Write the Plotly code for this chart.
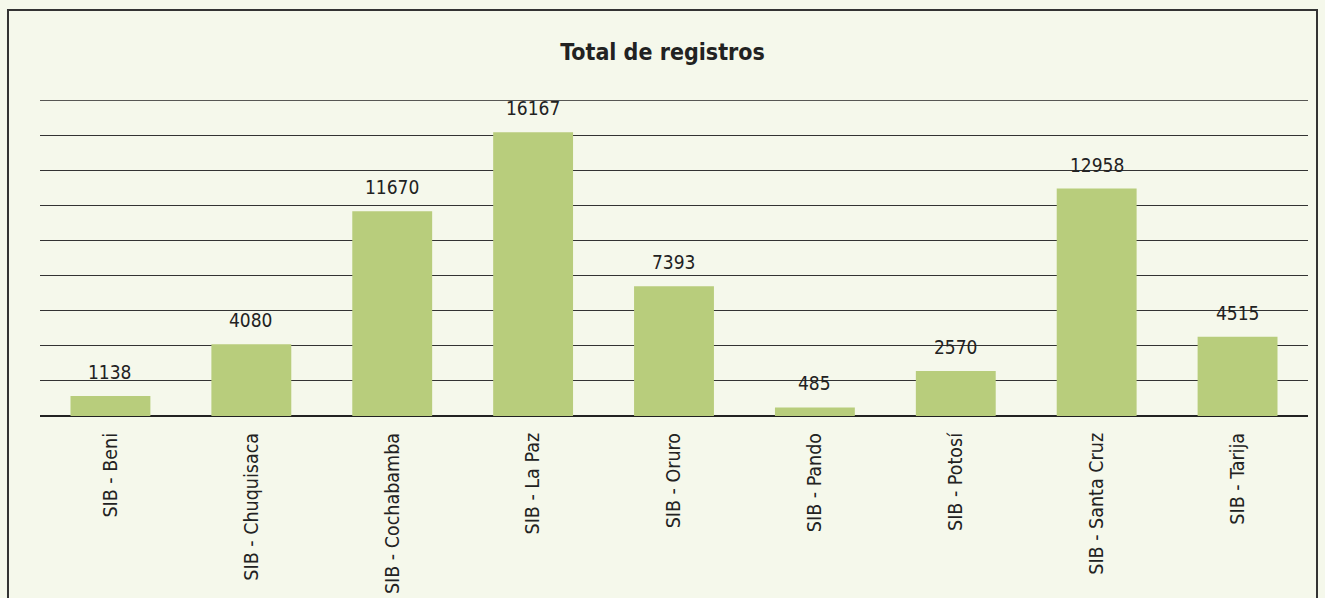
import plotly.graph_objects as go

categories = ["SIB - Beni", "SIB - Chuquisaca", "SIB - Cochabamba", "SIB - La Paz",
              "SIB - Oruro", "SIB - Pando", "SIB - Potosí", "SIB - Santa Cruz", "SIB - Tarija"]
values = [1138, 4080, 11670, 16167, 7393, 485, 2570, 12958, 4515]
title_text = "Total de registros"

FONT = "Liberation Sans Narrow, Arial Narrow, DejaVu Sans Condensed, Roboto Condensed, sans-serif"
BG = "#f5f8eb"
BAR = "#b8cd7c"

fig = go.Figure()
fig.add_trace(go.Bar(x=categories, y=values, marker=dict(color=BAR, line=dict(width=0)),
                     hoverinfo="x+y"))

for c, v in zip(categories, values):
    fig.add_annotation(x=c, y=v, text=str(v), showarrow=False, yanchor="bottom",
                       yshift=11, font=dict(family=FONT, size=19, color="#222222"))

fig.update_layout(
    width=1325, height=598,
    paper_bgcolor=BG, plot_bgcolor=BG,
    margin=dict(l=40, r=17, t=100, b=182),
    bargap=0.433,
    showlegend=False,
    title=dict(text="<b>" + title_text + "</b>", x=0.5, xanchor="center",
               y=1 - 52 / 598, yanchor="middle", yref="container", automargin=False,
               font=dict(family=FONT, size=23, color="#222222")),
    font=dict(family=FONT, color="#222222"),
    xaxis=dict(tickangle=-90, ticks="", showgrid=False, showline=False, automargin=False,
               ticklabelstandoff=12, tickfont=dict(family=FONT, size=19.5, color="#222222")),
    yaxis=dict(range=[0, 18000], dtick=2000, showticklabels=False, ticks="", automargin=False,
               showgrid=True, gridcolor="#333333", gridwidth=1,
               zeroline=True, zerolinecolor="#222222", zerolinewidth=1.5,
               showline=False),
    shapes=[dict(type="path", xref="paper", yref="paper",
                 path="M -0.02524,-0.7 L -0.02524,1.2848 L 1.0071,1.2848 L 1.0071,-0.7",
                 line=dict(color="#333333", width=2), layer="below")],
)
# top gridline at 18000
fig.add_hline(y=18000, line=dict(color="#222222", width=1.5))

fig.write_html("out.html", config={"displayModeBar": False},
               post_script="document.body.style.margin='0';document.body.style.overflow='hidden';")
